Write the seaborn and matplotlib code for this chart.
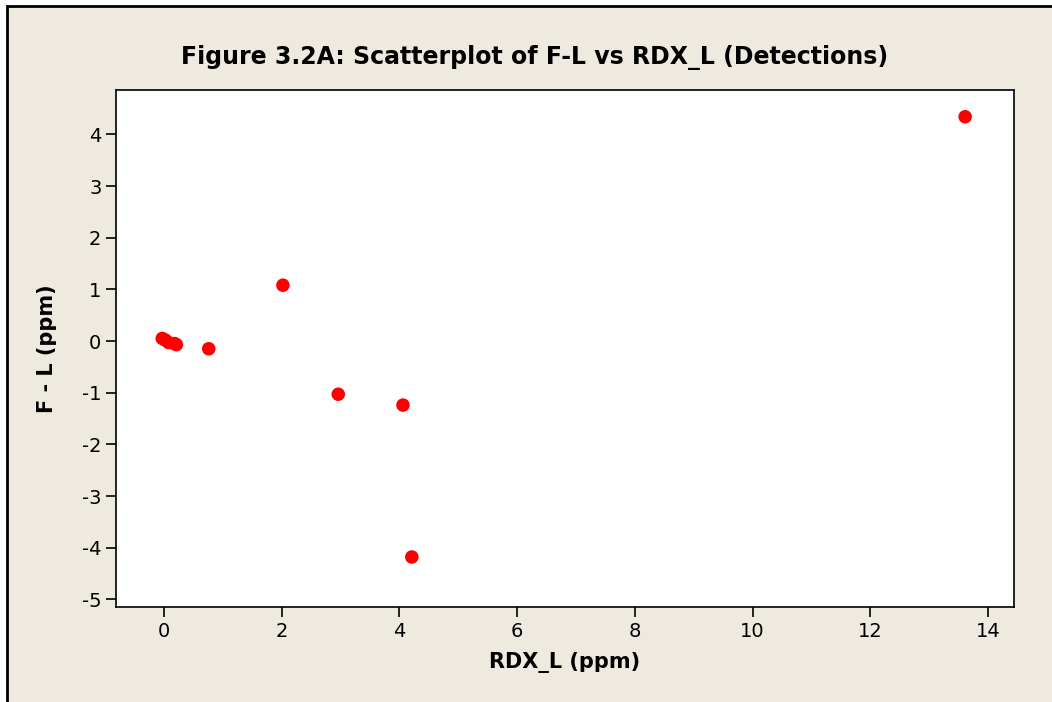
import matplotlib
matplotlib.use("Agg")
import matplotlib.pyplot as plt
import seaborn as sns
import pandas as pd
from matplotlib.patches import Rectangle

# valeurs
rdx_l = [-0.03, 0.02, 0.08, 0.18, 0.21, 0.76, 2.02, 2.96, 4.06, 4.21, 13.61]
f_minus_l = [0.05, 0.02, -0.03, -0.05, -0.07, -0.15, 1.08, -1.03, -1.24, -4.18, 4.34]
x_ticks = [0, 2, 4, 6, 8, 10, 12, 14]
y_ticks = [-5, -4, -3, -2, -1, 0, 1, 2, 3, 4]

df = pd.DataFrame({"RDX_L": rdx_l, "F_L": f_minus_l})

sns.set_style("white")
plt.rcParams["font.family"] = ["DejaVu Sans"]
plt.rcParams["axes.unicode_minus"] = False
plt.rcParams["text.color"] = "black"
plt.rcParams["axes.labelcolor"] = "black"

bg = "#eeeae0"
fig = plt.figure(figsize=(10.52, 7.02), dpi=100, facecolor="white")
fig.patches.append(Rectangle((7 / 1052, -0.1), 1.2, 1.1 - 6 / 702, transform=fig.transFigure,
                             facecolor=bg, edgecolor="black", linewidth=2, zorder=-1))

ax = fig.add_axes([116 / 1052, 1 - 607 / 702, (1014 - 116) / 1052, (607 - 90) / 702])
ax.set_facecolor("white")

sns.scatterplot(data=df, x="RDX_L", y="F_L", ax=ax, color="#ff0000",
                s=95, edgecolor="none", zorder=3)

ax.set_xlim(-0.8155, 14.44)
ax.set_ylim(-5.148, 4.858)
ax.set_xticks(x_ticks)
ax.set_yticks(y_ticks)
ax.tick_params(axis="both", direction="out", length=7, width=1.2, labelsize=14,
               colors="black", left=True, bottom=True)
for sp in ax.spines.values():
    sp.set_color("black")
    sp.set_linewidth(1.2)

ax.set_xlabel("RDX_L (ppm)", fontsize=15, fontweight="bold", labelpad=8)
ax.set_ylabel("F - L (ppm)", fontsize=15, fontweight="bold", labelpad=18)

fig.text(535 / 1052, 1 - 57 / 702, "Figure 3.2A: Scatterplot of F-L vs RDX_L (Detections)",
         ha="center", va="center", fontsize=17, fontweight="bold", color="black")

fig.savefig("out.png", dpi=100, facecolor=fig.get_facecolor())
